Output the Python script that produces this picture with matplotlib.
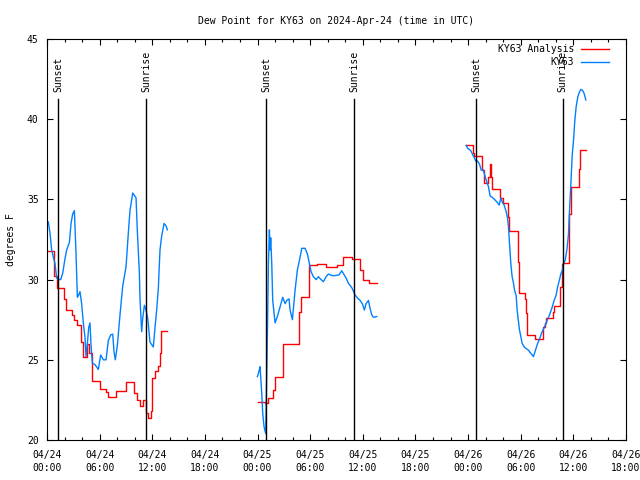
import matplotlib
matplotlib.use('Agg')
import matplotlib.pyplot as plt
from matplotlib.ticker import MultipleLocator

plt.rcParams['font.family'] = ['DejaVu Sans Mono']
plt.rcParams['font.size'] = 7

# hours since 2024-04-24 00:00 UTC
an_t1 = [0.15, 0.80, 1.10, 1.90, 2.20, 2.80, 3.10, 3.40, 3.90, 4.10, 4.60, 4.80, 5.10,
         6.00, 6.70, 7.00, 7.90, 9.00, 9.90, 10.30, 10.60, 10.90, 11.30, 11.50, 11.80,
         12.00, 12.30, 12.70, 12.90, 13.00, 13.72]
an_v1 = [31.8, 30.2, 29.5, 28.8, 28.1, 27.8, 27.5, 27.2, 26.1, 25.2, 26.0, 25.4, 23.7,
         23.2, 23.0, 22.7, 23.05, 23.6, 22.9, 22.5, 22.1, 22.5, 21.7, 21.35, 21.8,
         23.85, 24.3, 24.6, 25.4, 26.8, 26.8]
an_t2 = [24.0, 24.86, 25.24, 25.81, 26.0, 26.87, 28.77, 28.9, 29.91, 30.82, 31.81, 33.1,
         33.79, 34.74, 35.69, 35.99, 36.75, 37.59]
an_v2 = [22.35, 22.3, 22.6, 23.1, 23.9, 26.0, 28.0, 28.9, 30.9, 31.0, 30.8, 30.9,
         31.4, 31.3, 30.6, 30.0, 29.8, 29.8]
an_t3 = [47.78, 48.54, 48.70, 49.56, 49.87, 50.32, 50.51, 50.59, 50.70, 51.65, 51.96,
         52.53, 52.72, 53.67, 53.82, 53.86, 54.50, 54.62, 54.69, 54.77, 55.64, 56.52,
         56.78, 56.90, 57.66, 57.81, 58.49, 58.69, 58.80, 59.52, 59.71, 60.59, 60.78, 61.42]
an_v3 = [38.37, 37.9, 37.7, 36.83, 36.0, 36.4, 37.2, 36.4, 35.63, 35.07, 34.76,
         33.9, 33.03, 31.1, 29.8, 29.14, 28.8, 27.9, 27.0, 26.55, 26.28, 27.05,
         27.3, 27.6, 28.0, 28.35, 29.56, 31.0, 31.05, 34.1, 35.8, 36.9, 38.08, 38.08]

ob_t1 = [0.15, 0.34, 0.53, 0.72, 0.91, 1.10, 1.29, 1.56, 1.79, 2.05, 2.24, 2.55, 2.74,
         2.93, 3.12, 3.31, 3.46, 3.57, 3.76, 3.95, 4.14, 4.33, 4.45, 4.60, 4.75, 4.90,
         5.02, 5.17, 5.47, 5.85, 6.12, 6.42, 6.73, 6.99, 7.26, 7.49, 7.64, 7.79, 8.02,
         8.32, 8.63, 9.01, 9.27, 9.46, 9.77, 10.15, 10.30, 10.53, 10.60, 10.72, 10.79,
         10.91, 11.10, 11.29, 11.48, 11.74, 12.12, 12.31, 12.50, 12.69, 12.88, 13.07,
         13.34, 13.57, 13.72]
ob_v1 = [33.6, 32.9, 31.85, 31.4, 31.0, 30.1, 30.0, 30.0, 30.4, 31.3, 31.85, 32.3, 33.5,
         34.1, 34.3, 31.6, 28.9, 29.0, 29.25, 28.5, 27.3, 26.4, 25.2, 26.0, 27.0, 27.3,
         25.9, 24.8, 24.7, 24.4, 25.3, 25.0, 25.0, 26.2, 26.55, 26.6, 25.5, 25.0, 25.9,
         27.8, 29.6, 30.8, 32.9, 34.3, 35.4, 35.1, 33.0, 30.4, 28.8, 27.5, 26.75,
         27.6, 28.4, 28.1, 27.6, 26.1, 25.8, 27.0, 28.1, 29.45, 31.85, 32.7,
         33.5, 33.35, 33.1]
ob_t2 = [23.98, 24.17, 24.29, 24.36, 24.48, 24.59, 24.74, 24.93, 25.12, 25.24, 25.35,
         25.43, 25.50, 25.62, 25.73, 26.0, 26.26, 26.57, 26.87, 27.14, 27.33, 27.59,
         27.71, 27.97, 28.28, 28.54, 28.85, 29.04, 29.42, 29.68, 29.91, 30.10, 30.37,
         30.67, 30.94, 31.24, 31.51, 31.81, 32.08, 32.46, 32.84, 33.30, 33.60, 33.87,
         34.09, 34.36, 34.74, 35.12, 35.39, 35.69, 35.96, 36.18, 36.37, 36.64, 36.83,
         37.02, 37.21, 37.59]
ob_v2 = [23.95, 24.3, 24.57, 23.9, 22.9, 21.67, 20.83, 20.4, 26.5, 31.0, 33.1,
         31.85, 32.6, 31.0, 28.7, 27.3, 27.7, 28.3, 28.9, 28.5, 28.7, 28.8,
         28.1, 27.5, 29.35, 30.6, 31.4, 31.95, 31.95, 31.6, 31.0, 30.5, 30.18,
         30.0, 30.18, 30.0, 29.87, 30.18, 30.35, 30.25, 30.25, 30.3, 30.55, 30.3,
         30.1, 29.77, 29.5, 29.04, 28.85, 28.7, 28.48, 28.1, 28.5, 28.7, 28.2,
         27.8, 27.65, 27.7]
ob_t3 = [47.78, 47.93, 48.31, 48.54, 48.69, 48.92, 49.07, 49.30, 49.49, 49.75, 49.94,
         50.13, 50.32, 50.51, 50.82, 51.08, 51.35, 51.54, 51.73, 51.92, 52.11, 52.34,
         52.49, 52.60, 52.72, 52.87, 53.02, 53.17, 53.29, 53.48, 53.59, 53.74, 53.86,
         54.01, 54.16, 54.39, 54.62, 54.88, 55.15, 55.45, 55.68, 55.91, 56.14, 56.40,
         56.71, 56.97, 57.28, 57.54, 57.81, 58.04, 58.19, 58.42, 58.57, 58.76, 58.87,
         59.06, 59.26, 59.44, 59.56, 59.71, 59.86, 60.02, 60.17, 60.32, 60.51, 60.70,
         60.85, 61.04, 61.23, 61.42]
ob_v3 = [38.37, 38.2, 38.04, 37.77, 37.6, 37.35, 37.4, 37.2, 36.83, 36.83, 36.42,
         36.1, 35.8, 35.21, 35.1, 34.96, 34.8, 34.65, 35.07, 34.8, 34.65, 34.24,
         33.85, 33.3, 32.26, 31.0, 30.18, 29.8, 29.35, 29.0, 28.1, 27.4, 26.86,
         26.45, 26.03, 25.8, 25.7, 25.6, 25.4, 25.2, 25.6, 26.0, 26.28, 26.7,
         27.05, 27.4, 27.8, 28.2, 28.7, 29.04, 29.5, 30.0, 30.35, 30.6, 31.0,
         31.2, 31.85, 32.8, 34.3, 35.9, 37.7, 38.7, 39.95, 40.78, 41.4, 41.7,
         41.86, 41.8, 41.6, 41.2]

sunset_t = [1.25, 25.0, 48.9]
sunrise_t = [11.3, 35.0, 58.8]

xtick_pos = [0, 6, 12, 18, 24, 30, 36, 42, 48, 54, 60, 66]
xtick_lab = ['04/24\n00:00', '04/24\n06:00', '04/24\n12:00', '04/24\n18:00',
             '04/25\n00:00', '04/25\n06:00', '04/25\n12:00', '04/25\n18:00',
             '04/26\n00:00', '04/26\n06:00', '04/26\n12:00', '04/26\n18:00']

red = '#ff0000'
blue = '#0080ff'

fig = plt.figure(figsize=(6.4, 4.8), dpi=100)
ax = fig.add_axes([47 / 640, 40 / 480, 579 / 640, 401 / 480])

ax.step(an_t1, an_v1, where='post', color=red, lw=1, label='KY63 Analysis')
ax.step(an_t2, an_v2, where='post', color=red, lw=1)
ax.step(an_t3, an_v3, where='post', color=red, lw=1)
ax.plot(ob_t1, ob_v1, color=blue, lw=1, label='KY63')
ax.plot(ob_t2, ob_v2, color=blue, lw=1)
ax.plot(ob_t3, ob_v3, color=blue, lw=1)

for t in sunset_t:
    ax.plot([t, t], [20, 41.25], color='black', lw=1)
    ax.text(t, 41.7, 'Sunset', rotation=90, ha='center', va='bottom')
for t in sunrise_t:
    ax.plot([t, t], [20, 41.25], color='black', lw=1)
    ax.text(t, 41.7, 'Sunrise', rotation=90, ha='center', va='bottom')

ax.set_xlim(0, 66)
ax.set_ylim(20, 45)
ax.set_xticks(xtick_pos)
ax.set_xticklabels(xtick_lab)
for lab in ax.get_xticklabels():
    lab.set_linespacing(1.45)
ax.xaxis.set_minor_locator(MultipleLocator(2))
ax.set_yticks([20, 25, 30, 35, 40, 45])
ax.tick_params(which='both', direction='in', top=True, right=True, width=0.8)
ax.tick_params(which='major', length=4, pad=6)
ax.tick_params(axis='x', which='major', pad=7)
ax.tick_params(which='minor', length=2.5)
for s in ax.spines.values():
    s.set_linewidth(0.8)

ax.set_ylabel('degrees F', labelpad=8)
ax.set_title('Dew Point for KY63 on 2024-Apr-24 (time in UTC)', fontsize=7, pad=11)

leg = ax.legend(loc='upper right', bbox_to_anchor=(1 - 16.7 / 579, 1 - 5.0 / 401),
                frameon=False, markerfirst=False, borderpad=0, borderaxespad=0,
                handlelength=2.9, handletextpad=0.72, labelspacing=0.3)

fig.savefig('out.png', dpi=100)
